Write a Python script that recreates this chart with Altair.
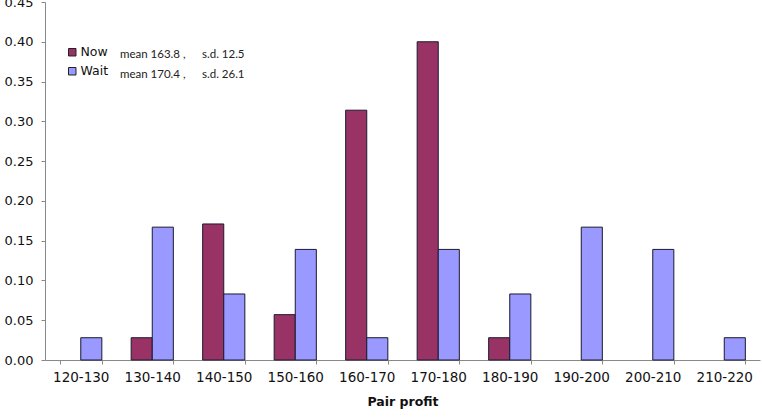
import altair as alt
import pandas as pd

categories = ["120-130", "130-140", "140-150", "150-160", "160-170",
              "170-180", "180-190", "190-200", "200-210", "210-220"]
now_values = [0.0, 0.028, 0.171, 0.057, 0.314, 0.400, 0.028, 0.0, 0.0, 0.0]
wait_values = [0.028, 0.167, 0.083, 0.139, 0.028, 0.139, 0.083, 0.167, 0.139, 0.028]
series = ["Now", "Wait"]
colors = ["#993366", "#9999FF"]
stats_mean = ["mean 163.8 ,", "mean 170.4 ,"]
stats_sd = ["s.d. 12.5", "s.d. 26.1"]

rows = []
for c, n, w in zip(categories, now_values, wait_values):
    rows.append({"cat": c, "series": "Now", "value": n})
    rows.append({"cat": c, "series": "Wait", "value": w})
df = pd.DataFrame(rows)

FONT = "DejaVu Sans"

bars = alt.Chart(df).transform_filter("datum.value > 0").mark_bar(
    stroke="#1a1a2e", strokeWidth=1).encode(
    x=alt.X("cat:N", sort=categories, title="Pair profit",
            scale=alt.Scale(domain=categories, paddingInner=0.41, paddingOuter=0.205),
            axis=alt.Axis(labelAngle=0, tickBand="extent", labelFontSize=13.5,
                          labelFont=FONT, labelColor="#111", labelPadding=6,
                          titleFont=FONT, titleFontSize=12.5, titleFontWeight="bold",
                          titleColor="#111", titlePadding=12,
                          domainColor="#888", tickColor="#888", tickSize=4)),
    xOffset=alt.XOffset("series:N", sort=series, scale=alt.Scale(domain=series)),
    y=alt.Y("value:Q", title=None,
            scale=alt.Scale(domain=[0, 0.45], nice=False),
            axis=alt.Axis(values=[0, 0.05, 0.1, 0.15, 0.2, 0.25, 0.3, 0.35, 0.4, 0.45],
                          format=".2f", grid=False, labelFontSize=13, labelFont=FONT,
                          labelColor="#111", labelPadding=8,
                          domainColor="#888", tickColor="#888", tickSize=4)),
    color=alt.Color("series:N", sort=series,
                    scale=alt.Scale(domain=series, range=colors),
                    legend=alt.Legend(title=None, orient="none", legendX=21, legendY=44,
                                      symbolType="square", symbolSize=56,
                                      symbolStrokeColor="#222", symbolStrokeWidth=1,
                                      labelFont=FONT, labelFontSize=12.5,
                                      labelColor="#111", rowPadding=6, labelOffset=2)),
)

txt_df = pd.DataFrame({"mean": stats_mean, "sd": stats_sd})
layers = [bars]
for i in range(2):
    d = txt_df.iloc[[i]]
    layers.append(alt.Chart(d).mark_text(align="left", baseline="middle", font="Lato",
                                         fontSize=11.5, color="#222").encode(
        x=alt.value(75), y=alt.value(53 + 20 * i), text="mean:N"))
    layers.append(alt.Chart(d).mark_text(align="left", baseline="middle", font="Lato",
                                         fontSize=11.5, color="#222").encode(
        x=alt.value(157), y=alt.value(53 + 20 * i), text="sd:N"))

chart = alt.layer(*layers).properties(
    width=715, height=358,
    autosize=alt.AutoSizeParams(type="none"),
    padding={"left": 45, "top": 2, "right": 2, "bottom": 58},
    background="white",
).configure_view(stroke=None)

chart.save("out.html", embed_options={"renderer": "svg", "actions": False})
